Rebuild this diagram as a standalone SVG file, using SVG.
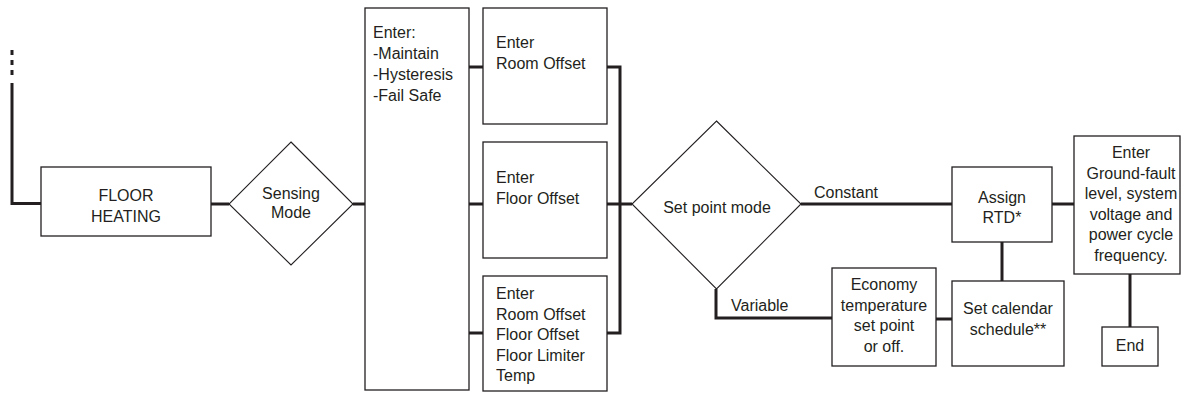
<svg xmlns="http://www.w3.org/2000/svg" width="1181" height="394" viewBox="0 0 1181 394">
<style>
.box{fill:#fff;stroke:#231f20;stroke-width:1.3}
.dia{fill:#fff;stroke:#231f20;stroke-width:1.1}
.con{fill:none;stroke:#231f20;stroke-width:3;stroke-linecap:butt;stroke-linejoin:miter}
text{font-family:"Liberation Sans",Arial,sans-serif;font-size:16px;fill:#231f20}
.c{text-anchor:middle}
</style>
<rect width="1181" height="394" fill="#fff"/>
<g id="connectors">
<path class="con" d="M12 50 V80" stroke-dasharray="5 5"/>
<path class="con" d="M12 83 V203.5 H41"/>
<path class="con" d="M211 204 H229"/>
<path class="con" d="M353 204 H365"/>
<path class="con" d="M469 67 H483 M469 204 H483 M469 333 H483"/>
<path class="con" d="M607 67 H620 V333 H607 M607 204 H632"/>
<path class="con" d="M801 204 H952"/>
<path class="con" d="M716 289 V318 H832"/>
<path class="con" d="M936 319 H952"/>
<path class="con" d="M1002 242 V281"/>
<path class="con" d="M1052 204 H1074"/>
<path class="con" d="M1130 274 V327"/>
</g>
<g id="floor-heating">
<rect class="box" x="41" y="167" width="170" height="69"/>
<text class="c" x="126" y="201">FLOOR</text>
<text class="c" x="126" y="222">HEATING</text>
</g>
<g id="sensing-mode">
<polygon class="dia" points="291,142 353,204 291,265 229,204"/>
<text class="c" x="291" y="199">Sensing</text>
<text class="c" x="291" y="218">Mode</text>
</g>
<g id="enter-maintain">
<rect class="box" x="365" y="8" width="104" height="382"/>
<text x="373" y="38">Enter:</text>
<text x="373" y="59">-Maintain</text>
<text x="373" y="80">-Hysteresis</text>
<text x="373" y="101">-Fail Safe</text>
</g>
<g id="room-offset">
<rect class="box" x="483" y="8" width="124" height="116"/>
<text x="496" y="48">Enter</text>
<text x="496" y="69">Room Offset</text>
</g>
<g id="floor-offset">
<rect class="box" x="483" y="142" width="124" height="116"/>
<text x="496" y="183">Enter</text>
<text x="496" y="204">Floor Offset</text>
</g>
<g id="all-offsets">
<rect class="box" x="483" y="276" width="124" height="115"/>
<text x="496" y="299">Enter</text>
<text x="496" y="319.5">Room Offset</text>
<text x="496" y="340">Floor Offset</text>
<text x="496" y="360.5">Floor Limiter</text>
<text x="496" y="381">Temp</text>
</g>
<g id="set-point-mode">
<polygon class="dia" points="716.5,121 801,204 716.5,289 632,204"/>
<text class="c" x="717" y="213">Set point mode</text>
</g>
<g id="labels">
<text x="814" y="198">Constant</text>
<text x="731" y="311">Variable</text>
</g>
<g id="economy">
<rect class="box" x="832" y="268" width="104" height="98"/>
<text class="c" x="884" y="290">Economy</text>
<text class="c" x="884" y="310.5">temperature</text>
<text class="c" x="884" y="331">set point</text>
<text class="c" x="884" y="351.5">or off.</text>
</g>
<g id="assign-rtd">
<rect class="box" x="952" y="167" width="100" height="75"/>
<text class="c" x="1002" y="203">Assign</text>
<text class="c" x="1002" y="223">RTD*</text>
</g>
<g id="calendar">
<rect class="box" x="952" y="281" width="112" height="85"/>
<text class="c" x="1008" y="314">Set calendar</text>
<text class="c" x="1008" y="335">schedule**</text>
</g>
<g id="ground-fault">
<rect class="box" x="1074" y="136" width="106" height="138"/>
<text class="c" x="1131" y="158">Enter</text>
<text class="c" x="1131" y="178.5">Ground-fault</text>
<text class="c" x="1131" y="199">level, system</text>
<text class="c" x="1131" y="219.5">voltage and</text>
<text class="c" x="1131" y="240">power cycle</text>
<text class="c" x="1131" y="260.5">frequency.</text>
</g>
<g id="end">
<rect class="box" x="1102" y="327" width="56" height="39"/>
<text class="c" x="1130" y="351">End</text>
</g>
</svg>
